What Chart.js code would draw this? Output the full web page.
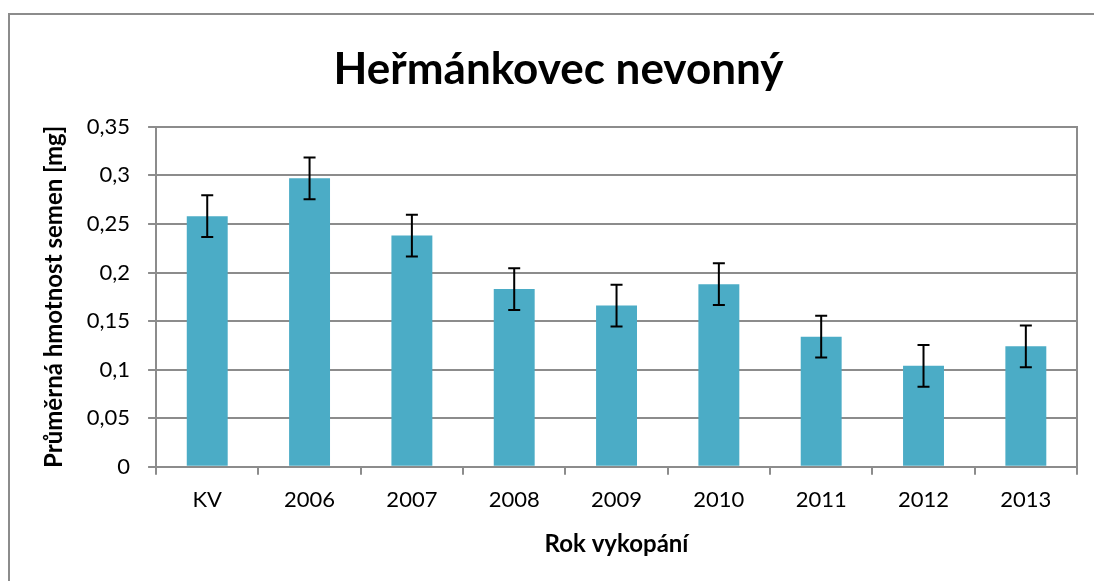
<!DOCTYPE html>
<html>
<head>
<meta charset="utf-8">
<script src="https://cdn.jsdelivr.net/npm/chart.js@4.4.0/dist/chart.umd.min.js"></script>
<style>
  body { margin: 0; background: #fff; }
  #frame { position: absolute; left: 8px; top: 13px; width: 1100px; height: 600px; border: 2px solid #8c8c8c; }
  #chart { position: absolute; left: 0; top: 0; }
</style>
</head>
<body>
<div id="frame"></div>
<canvas id="chart" width="1094" height="581"></canvas>
<script>
// Data
const categories = ['KV', '2006', '2007', '2008', '2009', '2010', '2011', '2012', '2013'];
const means = [0.258, 0.297, 0.238, 0.183, 0.166, 0.188, 0.134, 0.104, 0.124];
const errors = [0.0215, 0.0215, 0.0215, 0.0215, 0.0215, 0.0215, 0.0215, 0.0215, 0.0215];
const yTicks = [0, 0.05, 0.1, 0.15, 0.2, 0.25, 0.3, 0.35];

const gridColor = '#8c8c8c';

// plugin: error bars drawn through the y scale
const errorBars = {
    id: 'errorBars',
    afterDatasetsDraw(chart) {
        const ctx = chart.ctx;
        const y = chart.scales.y;
        const meta = chart.getDatasetMeta(0);
        ctx.save();
        ctx.strokeStyle = '#000';
        ctx.lineWidth = 2;
        meta.data.forEach((bar, i) => {
            const top = y.getPixelForValue(means[i] + errors[i]);
            const bot = y.getPixelForValue(means[i] - errors[i]);
            ctx.beginPath();
            ctx.moveTo(bar.x, top); ctx.lineTo(bar.x, bot);
            ctx.moveTo(bar.x - 6, top); ctx.lineTo(bar.x + 6, top);
            ctx.moveTo(bar.x - 6, bot); ctx.lineTo(bar.x + 6, bot);
            ctx.stroke();
        });
        ctx.restore();
    }
};

new Chart(document.getElementById('chart').getContext('2d'), {
    type: 'bar',
    data: {
        labels: categories,
        datasets: [{
            data: means,
            backgroundColor: '#4bacc6',
            categoryPercentage: 1,
            barPercentage: 0.4
        }]
    },
    options: {
        responsive: false,
        animation: false,
        layout: { padding: { left: 40, right: 17, top: 31, bottom: 18 } },
        plugins: {
            legend: { display: false },
            tooltip: { enabled: false },
            title: {
                display: true,
                text: 'Heřmánkovec nevonný',
                color: '#000',
                font: { family: 'Lato', size: 44, weight: 'bold' },
                padding: { top: 12, bottom: 31 }
            }
        },
        scales: {
            x: {
                grid: { display: true, drawOnChartArea: false, drawTicks: true, tickLength: 8, color: gridColor, lineWidth: 2 },
                border: { display: true, color: gridColor, width: 2 },
                ticks: { color: '#000', font: { family: 'Lato', size: 22 }, padding: 12 },
                title: {
                    display: true, text: 'Rok vykopání', color: '#000',
                    font: { family: 'Lato', size: 24, weight: 'bold' }, padding: { top: 5 }
                }
            },
            y: {
                min: 0,
                max: 0.35,
                afterBuildTicks(axis) { axis.ticks = yTicks.map(v => ({ value: v })); },
                grid: { color: gridColor, lineWidth: 2, tickLength: 8 },
                border: { display: true, color: gridColor, width: 2 },
                ticks: {
                    color: '#000', font: { family: 'Lato', size: 22 }, padding: 18,
                    callback: v => String(Number(v.toFixed(2))).replace('.', ',')
                },
                title: {
                    display: true, text: 'Průměrná hmotnost semen [mg]', color: '#000',
                    font: { family: 'Lato', size: 24, weight: 'bold' }, padding: 0
                }
            },
            y2: {
                position: 'right',
                min: 0,
                max: 0.35,
                grid: { drawOnChartArea: false, drawTicks: false },
                border: { display: true, color: gridColor, width: 2 },
                ticks: { display: false }
            }
        }
    },
    plugins: [errorBars]
});
</script>
</body>
</html>
